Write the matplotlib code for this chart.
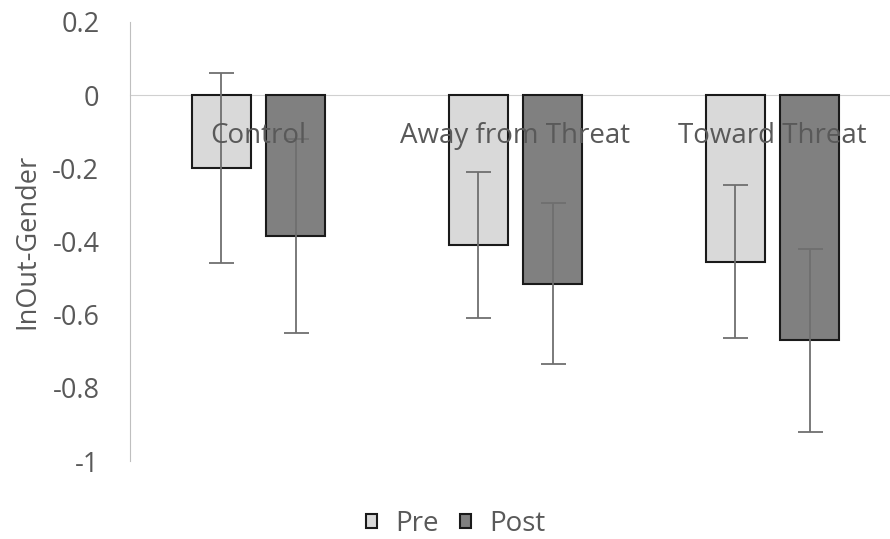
import numpy as np
import matplotlib
matplotlib.use("Agg")
import matplotlib.pyplot as plt
from matplotlib.patches import Patch

plt.rcParams['font.family'] = ['Open Sans', 'DejaVu Sans']

# Data
categories = ["Control", "Away from Threat", "Toward Threat"]
pre_values = [-0.20, -0.41, -0.455]
pre_err = [0.26, 0.20, 0.21]
post_values = [-0.385, -0.515, -0.67]
post_err = [0.265, 0.22, 0.25]
y_ticks = [0.2, 0, -0.2, -0.4, -0.6, -0.8, -1]
y_tick_labels = ["0.2", "0", "-0.2", "-0.4", "-0.6", "-0.8", "-1"]

TEXT = "#595959"
GRID = "#bfbfbf"

fig = plt.figure(figsize=(8.9, 5.39), dpi=100)
ax = fig.add_axes([130 / 890, 78 / 539, 771 / 890, 439 / 539])

x = np.arange(len(categories))
width = 0.226
offset = 0.144

ebar_style = dict(ecolor="#6f6f6f", elinewidth=1.3, capsize=9, capthick=1.3, zorder=4)
ax.bar(x - offset, pre_values, width, yerr=pre_err, color="#d9d9d9",
       edgecolor="#1a1a1a", linewidth=1.5, error_kw=ebar_style, zorder=2)
ax.bar(x + offset, post_values, width, yerr=post_err, color="#808080",
       edgecolor="#1a1a1a", linewidth=1.5, error_kw=ebar_style, zorder=2)

ax.set_xlim(-0.5, 2.5)
ax.set_ylim(-1, 0.2)
ax.set_yticks(y_ticks)
ax.set_yticklabels(y_tick_labels)

# Excel-style axis: horizontal axis line at zero, labels just below it
ax.spines['bottom'].set_position(('data', 0))
ax.spines['bottom'].set_color("#d0d0d0")
ax.spines['bottom'].set_zorder(1)
ax.spines['left'].set_color(GRID)
ax.spines['top'].set_visible(False)
ax.spines['right'].set_visible(False)
ax.set_xticks(x)
ax.set_xticklabels(categories)
ax.xaxis.set_zorder(5)
ax.tick_params(axis='x', length=0, pad=19, labelsize=20, labelcolor=TEXT)
ax.tick_params(axis='y', length=0, pad=22, labelsize=19.5, labelcolor=TEXT)

ax.set_ylabel("InOut-Gender", fontsize=19.5, color=TEXT, labelpad=8)

handles = [Patch(facecolor="#d9d9d9", edgecolor="#1a1a1a", linewidth=1.5, label="Pre"),
           Patch(facecolor="#808080", edgecolor="#1a1a1a", linewidth=1.5, label="Post")]
leg = fig.legend(handles=handles, loc='center', bbox_to_anchor=(0.512, 1 - 524 / 539),
                 ncol=2, frameon=False, fontsize=20, handlelength=0.4, handleheight=0.4,
                 handletextpad=0.65, columnspacing=0.75)
for t in leg.get_texts():
    t.set_color(TEXT)

fig.savefig("out.png", dpi=100)
